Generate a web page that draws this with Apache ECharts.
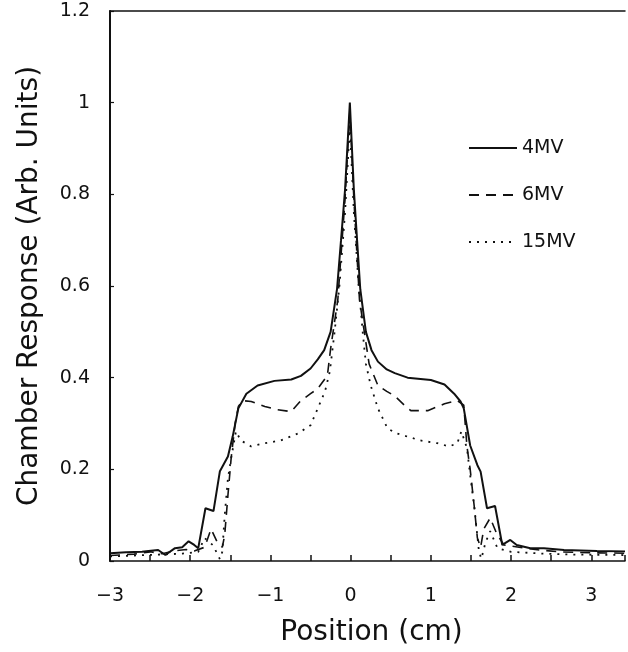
<!DOCTYPE html>
<html>
<head>
<meta charset="utf-8">
<script src="https://cdn.jsdelivr.net/npm/echarts@6/dist/echarts.min.js"></script>
<style>
html,body{margin:0;padding:0;background:#fff;}
#c{width:628px;height:652px;}
</style>
</head>
<body>
<div id="c"></div>
<script>
const seriesNames = ['4MV', '6MV', '15MV'];
const xTicks = [-3, -2, -1, 0, 1, 2, 3];
const yTicks = [0, 0.2, 0.4, 0.6, 0.8, 1, 1.2];

const pos4 = [-3.0, -2.8, -2.6, -2.52, -2.4, -2.31, -2.19, -2.1, -2.02, -1.95, -1.9, -1.81, -1.71, -1.63, -1.53, -1.47, -1.40, -1.30, -1.16, -0.95, -0.74, -0.62, -0.50, -0.41, -0.33, -0.25, -0.17, -0.12, -0.07, -0.01, 0.04, 0.08, 0.12, 0.19, 0.26, 0.34, 0.45, 0.55, 0.71, 1.0, 1.17, 1.29, 1.37, 1.41, 1.49, 1.58, 1.62, 1.70, 1.80, 1.89, 1.99, 2.07, 2.24, 2.41, 2.66, 3.07, 3.42];
const val4 = [0.017, 0.019, 0.020, 0.022, 0.024, 0.013, 0.028, 0.030, 0.043, 0.035, 0.028, 0.115, 0.109, 0.196, 0.228, 0.272, 0.333, 0.365, 0.383, 0.393, 0.396, 0.404, 0.420, 0.440, 0.460, 0.500, 0.593, 0.700, 0.810, 1.000, 0.810, 0.700, 0.593, 0.500, 0.460, 0.435, 0.418, 0.410, 0.400, 0.395, 0.385, 0.365, 0.348, 0.333, 0.252, 0.209, 0.195, 0.115, 0.120, 0.035, 0.046, 0.035, 0.028, 0.028, 0.024, 0.022, 0.021];

const pos6 = [-3.0, -2.7, -2.5, -2.35, -2.2, -2.05, -1.95, -1.82, -1.74, -1.66, -1.60, -1.57, -1.53, -1.49, -1.44, -1.40, -1.35, -1.24, -1.07, -0.91, -0.74, -0.62, -0.50, -0.41, -0.29, -0.25, -0.16, -0.07, -0.01, 0.04, 0.11, 0.17, 0.23, 0.34, 0.45, 0.55, 0.67, 0.75, 0.96, 1.17, 1.33, 1.41, 1.45, 1.49, 1.54, 1.58, 1.62, 1.66, 1.74, 1.82, 1.91, 2.1, 2.3, 2.6, 3.0, 3.42];
const val6 = [0.012, 0.015, 0.020, 0.016, 0.022, 0.025, 0.022, 0.030, 0.070, 0.040, 0.030, 0.057, 0.143, 0.224, 0.300, 0.337, 0.350, 0.348, 0.337, 0.330, 0.326, 0.350, 0.365, 0.376, 0.405, 0.463, 0.570, 0.790, 0.980, 0.790, 0.570, 0.500, 0.430, 0.383, 0.370, 0.360, 0.340, 0.328, 0.328, 0.343, 0.350, 0.340, 0.250, 0.200, 0.120, 0.050, 0.030, 0.070, 0.094, 0.060, 0.035, 0.030, 0.025, 0.020, 0.018, 0.017];

const pos15 = [-3.0, -2.7, -2.4, -2.1, -1.9, -1.82, -1.72, -1.66, -1.63, -1.60, -1.57, -1.53, -1.49, -1.43, -1.37, -1.24, -1.07, -0.87, -0.66, -0.50, -0.41, -0.32, -0.26, -0.20, -0.14, -0.07, -0.01, 0.04, 0.10, 0.15, 0.19, 0.25, 0.34, 0.46, 0.58, 0.87, 1.08, 1.23, 1.33, 1.38, 1.45, 1.49, 1.54, 1.60, 1.63, 1.68, 1.74, 1.83, 2.0, 2.4, 2.8, 3.42];
const val15 = [0.010, 0.012, 0.014, 0.016, 0.020, 0.050, 0.035, 0.015, 0.004, 0.020, 0.100, 0.180, 0.224, 0.283, 0.263, 0.250, 0.257, 0.263, 0.278, 0.296, 0.333, 0.370, 0.413, 0.500, 0.600, 0.760, 0.950, 0.760, 0.600, 0.500, 0.430, 0.383, 0.333, 0.289, 0.278, 0.263, 0.257, 0.250, 0.257, 0.283, 0.246, 0.187, 0.120, 0.020, 0.005, 0.040, 0.065, 0.028, 0.020, 0.016, 0.014, 0.013];

const zip = (a, b) => a.map((x, i) => [x, b[i]]);
const FONT = 'DejaVu Sans';
const INK = '#111';

const chart = echarts.init(document.getElementById('c'), null, {renderer: 'canvas'});
chart.setOption({
  backgroundColor: '#fff',
  animation: false,
  grid: {left: 110, right: 0, top: 11, bottom: 89},
  legend: {
    orient: 'vertical', left: 463, top: 133,
    itemWidth: 48, itemHeight: 14, itemGap: 27,
    itemStyle: {opacity: 0},
    textStyle: {fontFamily: FONT, fontSize: 19, color: INK, lineHeight: 20},
    data: seriesNames
  },
  xAxis: [{
    type: 'value', min: xTicks[0], max: 3.42, interval: 1,
    axisLine: {onZero: false, lineStyle: {color: INK, width: 1.5}},
    axisTick: {inside: true, length: 6, lineStyle: {color: INK, width: 1.5}},
    minorTick: {show: true, splitNumber: 2, length: 6, lineStyle: {color: INK, width: 1.5}},
    splitLine: {show: false},
    axisLabel: {
      margin: 26, fontFamily: FONT, fontSize: 19, color: INK,
      formatter: v => xTicks.includes(v) ? String(v).replace('-', '\u2212') : ''
    },
    name: 'Position (cm)', nameLocation: 'middle', nameGap: 58,
    nameTextStyle: {fontFamily: FONT, fontSize: 28, color: INK, padding: [0, 0, 0, 8]}
  }, {
    type: 'value', position: 'top', min: xTicks[0], max: 3.42,
    axisLine: {show: true, onZero: false, lineStyle: {color: INK, width: 1.5}},
    axisTick: {show: false}, axisLabel: {show: false}, splitLine: {show: false}
  }],
  yAxis: {
    type: 'value', min: yTicks[0], max: yTicks[yTicks.length - 1], interval: 0.2,
    axisLine: {show: true, onZero: false, lineStyle: {color: INK, width: 2}},
    axisTick: {show: true, inside: true, length: 4, lineStyle: {color: INK, width: 1.2}},
    splitLine: {show: false},
    axisLabel: {margin: 20, fontFamily: FONT, fontSize: 19, color: INK, padding: [5, 0, 0, 0]},
    name: 'Chamber Response (Arb. Units)', nameLocation: 'middle', nameGap: 66,
    nameTextStyle: {fontFamily: FONT, fontSize: 28, color: INK}
  },
  series: [
    {name: seriesNames[0], type: 'line', symbol: 'none', data: zip(pos4, val4),
     lineStyle: {color: INK, width: 2, type: 'solid'}, itemStyle: {color: INK}},
    {name: seriesNames[1], type: 'line', symbol: 'none', data: zip(pos6, val6),
     lineStyle: {color: INK, width: 1.6, type: [10, 7]}, itemStyle: {color: INK}},
    {name: seriesNames[2], type: 'line', symbol: 'none', data: zip(pos15, val15),
     lineStyle: {color: INK, width: 1.8, type: [2, 6]}, itemStyle: {color: INK}}
  ]
});
</script>
</body>
</html>
